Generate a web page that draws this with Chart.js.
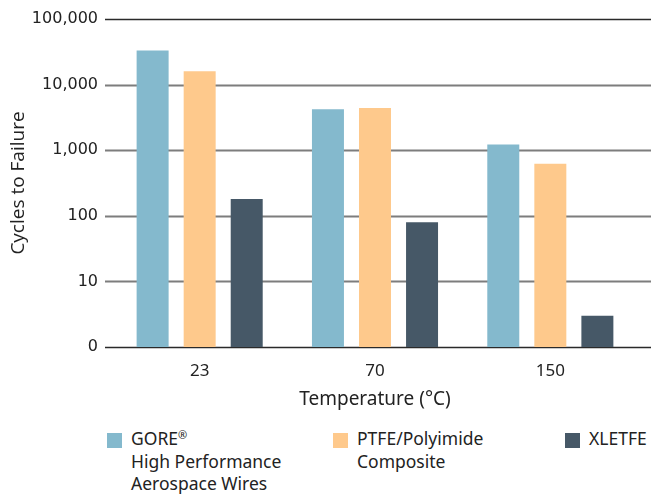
<!DOCTYPE html>
<html>
<head>
<meta charset="utf-8">
<script src="https://cdn.jsdelivr.net/npm/chart.js@4"></script>
<style>
    body { margin: 0; background: #fff; }
    #wrap { position: relative; width: 651px; height: 495px; }
    #chart { position: absolute; left: 0; top: 0; }
    .leg { position: absolute; top: 427px; font-family: "Noto Sans", sans-serif; font-size: 17.5px; line-height: 22.5px; color: #222; }
    .leg .box { position: absolute; left: 0; top: 6px; width: 15px; height: 15px; }
    .leg .txt { margin-left: 24px; }
    .leg sup { font-size: 11px; vertical-align: 6px; line-height: 0; }
</style>
</head>
<body>
<div id="wrap">
    <canvas id="chart" width="651" height="415"></canvas>
    <div id="legend"></div>
</div>
<script>
const categories = ['23', '70', '150'];
const seriesNames = ['GORE® High Performance Aerospace Wires', 'PTFE/Polyimide Composite', 'XLETFE'];
const goreValues = [33000, 4200, 1220];
const ptfeValues = [16000, 4400, 620];
const xletfeValues = [180, 80, 3];
const tickValues = [1, 10, 100, 1000, 10000, 100000];
const tickLabels = ['0', '10', '100', '1,000', '10,000', '100,000'];
const colors = ['#84B9CD', '#FEC98C', '#465867'];

// 격자선을 차트 영역보다 조금 더 길게 그림
const gridPlugin = {
    id: 'wideGrid',
    beforeDatasetsDraw(chart) {
        const ctx = chart.ctx;
        const y = chart.scales.y;
        ctx.save();
        tickValues.forEach((v, i) => {
            const py = Math.round(y.getPixelForValue(v)) + 0.5;
            const edge = i === 0 || i === tickValues.length - 1;
            ctx.strokeStyle = edge ? '#2a2a2a' : '#7d7d7d';
            ctx.lineWidth = edge ? 1.6 : 1.8;
            ctx.beginPath();
            ctx.moveTo(105, py);
            ctx.lineTo(651, py);
            ctx.stroke();
        });
        ctx.restore();
    }
};

new Chart(document.getElementById('chart').getContext('2d'), {
    type: 'bar',
    data: {
        labels: categories,
        datasets: [
            { label: seriesNames[0], data: goreValues, backgroundColor: colors[0] },
            { label: seriesNames[1], data: ptfeValues, backgroundColor: colors[1] },
            { label: seriesNames[2], data: xletfeValues, backgroundColor: colors[2] }
        ]
    },
    options: {
        responsive: false,
        animation: false,
        categoryPercentage: 0.805,
        barPercentage: 0.68,
        layout: { padding: { top: 19, right: 13 } },
        plugins: { legend: { display: false }, tooltip: { enabled: false } },
        scales: {
            x: {
                grid: { display: false },
                border: { display: false },
                ticks: { color: '#222', font: { family: 'Noto Sans', size: 17 }, padding: 6 },
                title: { display: true, text: 'Temperature (°C)', color: '#222', font: { family: 'Noto Sans', size: 19 }, padding: { top: 6 } },
                afterFit(scale) { scale.height = 68; }
            },
            y: {
                type: 'logarithmic',
                min: 1,
                max: 100000,
                grid: { display: false },
                border: { display: false },
                afterBuildTicks(scale) {
                    scale.ticks = tickValues.map(v => ({ value: v }));
                },
                ticks: {
                    color: '#222',
                    font: { family: 'DejaVu Sans', size: 16 },
                    padding: 6,
                    callback: function (value) {
                        const i = tickValues.indexOf(value);
                        return i >= 0 ? tickLabels[i] : '';
                    }
                },
                title: { display: true, text: 'Cycles to Failure', color: '#222', font: { family: 'Open Sans', size: 19 }, padding: { top: 7 } },
                afterFit(scale) { scale.width = 112; }
            }
        }
    },
    plugins: [gridPlugin]
});

// 범례는 여러 줄이라 HTML로 만듦
const legendLines = [
    ['GORE<sup>®</sup>', 'High Performance', 'Aerospace Wires'],
    ['PTFE/Polyimide', 'Composite'],
    ['XLETFE']
];
const legendX = [107, 333, 565];
const legendDiv = document.getElementById('legend');
legendLines.forEach((lines, i) => {
    const item = document.createElement('div');
    item.className = 'leg';
    item.style.left = legendX[i] + 'px';
    item.innerHTML = `<span class="box" style="background:${colors[i]}"></span><div class="txt">${lines.join('<br>')}</div>`;
    legendDiv.appendChild(item);
});
</script>
</body>
</html>
